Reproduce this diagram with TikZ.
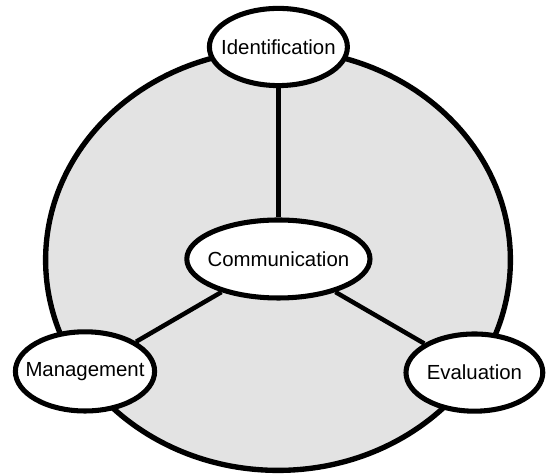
\documentclass[tikz,border=0pt]{standalone}
\usepackage{fontspec}
\setmainfont{Liberation Sans}
\usepackage{tikz}
\usetikzlibrary{shapes}
\tikzset{auto, font=\fontsize{14.5}{16}\selectfont}
\tikzset{phase/.style={shape=ellipse, draw, fill=white, line width=3.6pt,
    inner sep=0mm, execute at begin node={\hbox to 0pt\bgroup\hss},
    execute at end node={\hss\egroup}}}
\tikzset{link/.style={draw, line width=3.2pt}}

\begin{document}
\begin{tikzpicture}[x=1cm, y=1cm]
      \useasboundingbox (0,0) rectangle (13.7,11.875);
      \path[fill=black!11, draw, line width=3.8pt] (6.95,5.375) ellipse [x radius=5.81, y radius=5.26];
      \node[phase, minimum width=3.45cm, minimum height=1.93cm] (ident) at (6.96,10.7) {Identification};
      \node[phase, minimum width=4.58cm, minimum height=1.95cm] (comm) at (6.96,5.4) {Communication};
      \node[phase, minimum width=3.48cm, minimum height=1.98cm] (mgmt) at (2.125,2.59) {Management};
      \node[phase, minimum width=3.42cm, minimum height=1.93cm] (eval) at (11.86,2.56) {Evaluation};
      \path (ident) edge[link] (comm);
      \path (comm) edge[link] (mgmt);
      \path (comm) edge[link] (eval);
    \end{tikzpicture}
\end{document}
